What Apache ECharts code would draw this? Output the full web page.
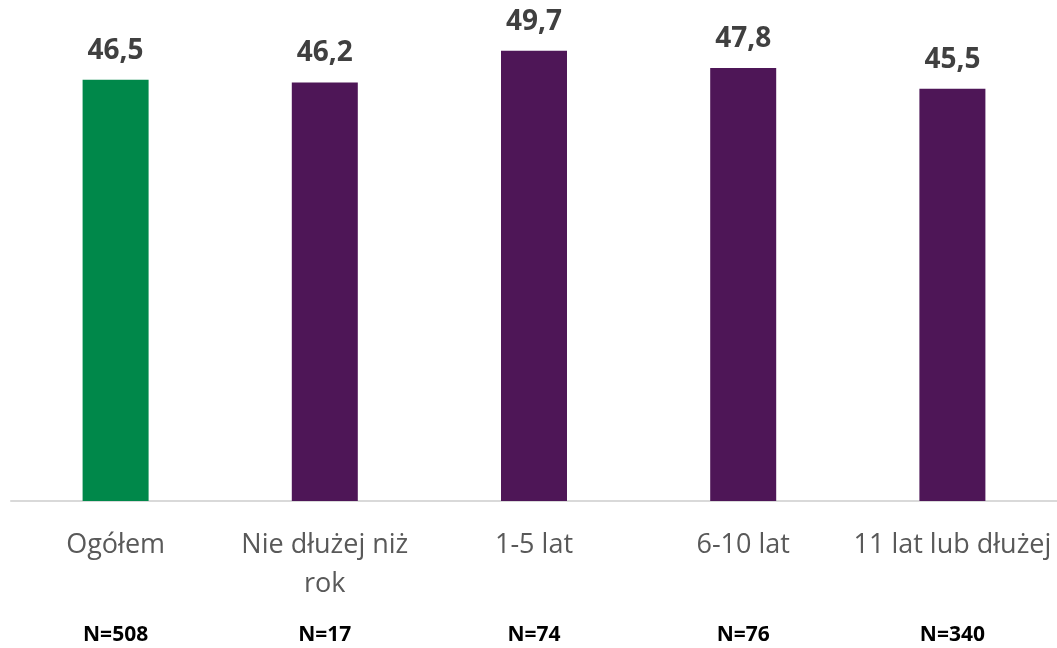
<!DOCTYPE html>
<html>
<head>
<meta charset="UTF-8" />
<title>Wykres</title>
<script src="https://cdn.jsdelivr.net/npm/echarts@6/dist/echarts.min.js"></script>
<style>
html, body { margin: 0; padding: 0; background: #fff; }
</style>
</head>
<body>
<div id="chart" style="width: 1057px; height: 648px;"></div>
<script>
// dane
var categories = ["Ogółem", "Nie dłużej niż\nrok", "1-5 lat", "6-10 lat", "11 lat lub dłużej"];
var values = [46.5, 46.2, 49.7, 47.8, 45.5];
var sampleSizes = ["N=508", "N=17", "N=74", "N=76", "N=340"];

var myChart = echarts.init(document.getElementById("chart"));

var font = "'Open Sans', 'Liberation Sans', sans-serif";

var option = {
  animation: false,
  grid: { left: 11, right: 0, top: 48, bottom: 147 },
  xAxis: [
    {
      type: "category",
      data: categories,
      axisLine: { lineStyle: { color: "#d9d9d9", width: 2 } },
      axisTick: { show: false },
      axisLabel: {
        margin: 25,
        fontFamily: font,
        fontSize: 27,
        color: "#595959",
        lineHeight: 39,
        interval: 0
      }
    },
    {
      type: "category",
      position: "bottom",
      offset: 116,
      data: sampleSizes,
      axisLine: { show: false },
      axisTick: { show: false },
      axisLabel: {
        fontFamily: font,
        fontSize: 21,
        fontWeight: "bold",
        color: "#000",
        interval: 0
      }
    }
  ],
  yAxis: {
    type: "value",
    min: 0,
    max: 50,
    show: false,
    splitLine: { show: false }
  },
  series: [
    {
      type: "bar",
      data: values,
      barWidth: 66,
      itemStyle: {
        color: function (p) { return p.dataIndex === 0 ? "#00884a" : "#4e1657"; }
      },
      label: {
        show: true,
        position: "top",
        distance: 15,
        fontFamily: font,
        fontSize: 28,
        fontWeight: "bold",
        color: "#404040",
        formatter: function (p) { return p.value.toFixed(1).replace(".", ","); }
      }
    }
  ]
};

myChart.setOption(option);
</script>
</body>
</html>
